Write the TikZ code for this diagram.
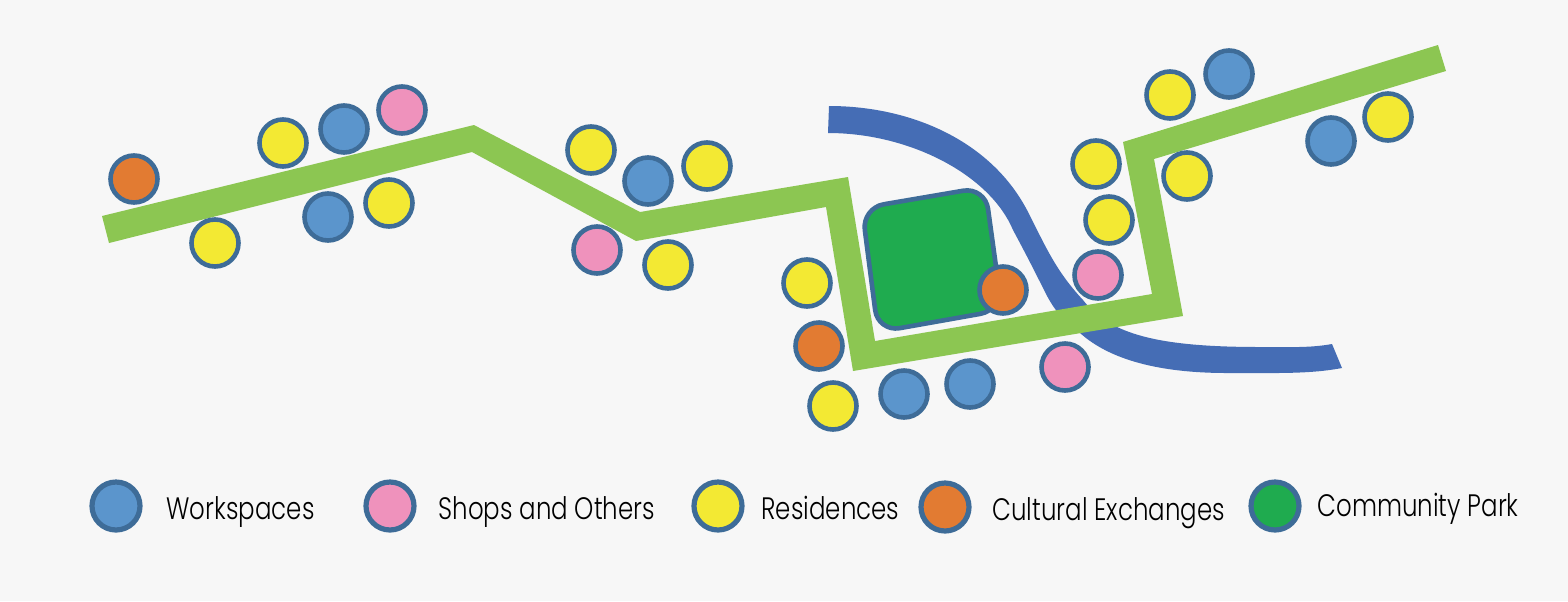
\documentclass[tikz,border=0pt]{standalone}
\usepackage{fontspec}
\setmainfont[FakeStretch=0.79,UprightFont=* Light]{Poppins}
\usetikzlibrary{positioning}
\definecolor{paper}{HTML}{F7F7F7}
\definecolor{roadgreen}{HTML}{8CC652}
\definecolor{riverblue}{HTML}{456DB5}
\definecolor{rimblue}{HTML}{3E6C98}
\definecolor{workblue}{HTML}{5B95CC}
\definecolor{shoppink}{HTML}{EF92BC}
\definecolor{homeyellow}{HTML}{F3E933}
\definecolor{culturalorange}{HTML}{E27B32}
\definecolor{parkgreen}{HTML}{1FAB4F}
\tikzset{
    spot/.style={circle, draw=rimblue, line width=2.3pt, inner sep=0pt, minimum size=23.5pt},
    work/.style={spot, fill=workblue},
    shop/.style={spot, fill=shoppink},
    home/.style={spot, fill=homeyellow},
    cultural/.style={spot, fill=culturalorange},
    key/.style={minimum size=24pt, line width=2.6pt},
    keytext/.style={inner sep=0pt, outer sep=0pt, font=\fontsize{15.5}{18}\selectfont, text=black, text height=13pt, text depth=0pt}
}
\begin{document}
\begin{tikzpicture}[x=0.5pt, y=-0.5pt]
    \useasboundingbox (0,0) rectangle (1568,601);
    \fill[paper] (0,0) rectangle (1568,601);

    % river
    \fill[riverblue] (829,106) .. controls (910,106) and (990,140) .. (1027,210) .. controls (1045,245) and (1055,270) .. (1083,300) .. controls (1110,335) and (1160,347) .. (1260,347) .. controls (1290,347) and (1310,348) .. (1332,344) -- (1342,368) .. controls (1310,374) and (1280,373) .. (1227,373) .. controls (1160,373) and (1110,360) .. (1080,333) .. controls (1065,322) and (1055,312) .. (1045,292) .. controls (1035,272) and (1028,258) .. (1013,230) .. controls (990,175) and (910,133) .. (828,133) -- cycle;

    % street
    \fill[roadgreen] (102,216) -- (474,125) -- (640,212) -- (848,177) -- (875,341) -- (1152,294) -- (1123,142) -- (1438,45) -- (1446,71) -- (1154,159) -- (1183,316) -- (853,371) -- (826,207) -- (636,241) -- (472,152) -- (109,243) -- cycle;

    % park
    \draw[rimblue, fill=parkgreen, line width=2.3pt, rounded corners=11pt] (862,208) -- (985,187) -- (1002,310) -- (878,332) -- cycle;

    % west group
    \node (cultureA) [cultural] at (134,179) {};
    \node (homeA) [home] at (215,243) {};
    \node (homeB) [home] at (283,143) {};
    \node (workA) [work] at (344,129) {};
    \node (shopA) [shop] at (402,110) {};
    \node (workB) [work] at (328,217) {};
    \node (homeC) [home] at (389,203) {};

    % middle group
    \node (homeD) [home] at (591,150) {};
    \node (workC) [work] at (648,181) {};
    \node (homeE) [home] at (707,166) {};
    \node (shopB) [shop] at (597,250) {};
    \node (homeF) [home] at (668,265) {};

    % around the park
    \node (homeG) [home] at (807,283) {};
    \node (cultureB) [cultural] at (819,346) {};
    \node (homeH) [home] at (833,406) {};
    \node (workD) [work] at (904,394) {};
    \node (workE) [work] at (970,384) {};
    \node (shopC) [shop] at (1065,367) {};
    \node (cultureC) [cultural] at (1003,290) {};
    \node (shopD) [shop] at (1098,275) {};
    \node (homeI) [home] at (1109,220) {};
    \node (homeJ) [home] at (1096,164) {};

    % east group
    \node (homeK) [home] at (1170,95) {};
    \node (workF) [work] at (1229,74) {};
    \node (homeL) [home] at (1187,176) {};
    \node (workG) [work] at (1331,141) {};
    \node (homeM) [home] at (1388,117) {};

    % legend
    \node (workKey) [work, key] at (116,506) {};
    \node (workText) [keytext, right=12pt of workKey] {Workspaces};
    \node (shopKey) [shop, key] at (390,506) {};
    \node (shopText) [keytext, right=11pt of shopKey] {Shops and Others};
    \node (homeKey) [home, key] at (718,506) {};
    \node (homeText) [keytext, right=8.5pt of homeKey] {Residences};
    \node (cultureKey) [cultural, key] at (945,507) {};
    \node (cultureText) [keytext, right=10.5pt of cultureKey] {Cultural Exchanges};
    \node (parkKey) [spot, key, fill=parkgreen] at (1275,506) {};
    \node (parkText) [keytext, right=8pt of parkKey, yshift=1.5pt] {Community Park};
\end{tikzpicture}
\end{document}
